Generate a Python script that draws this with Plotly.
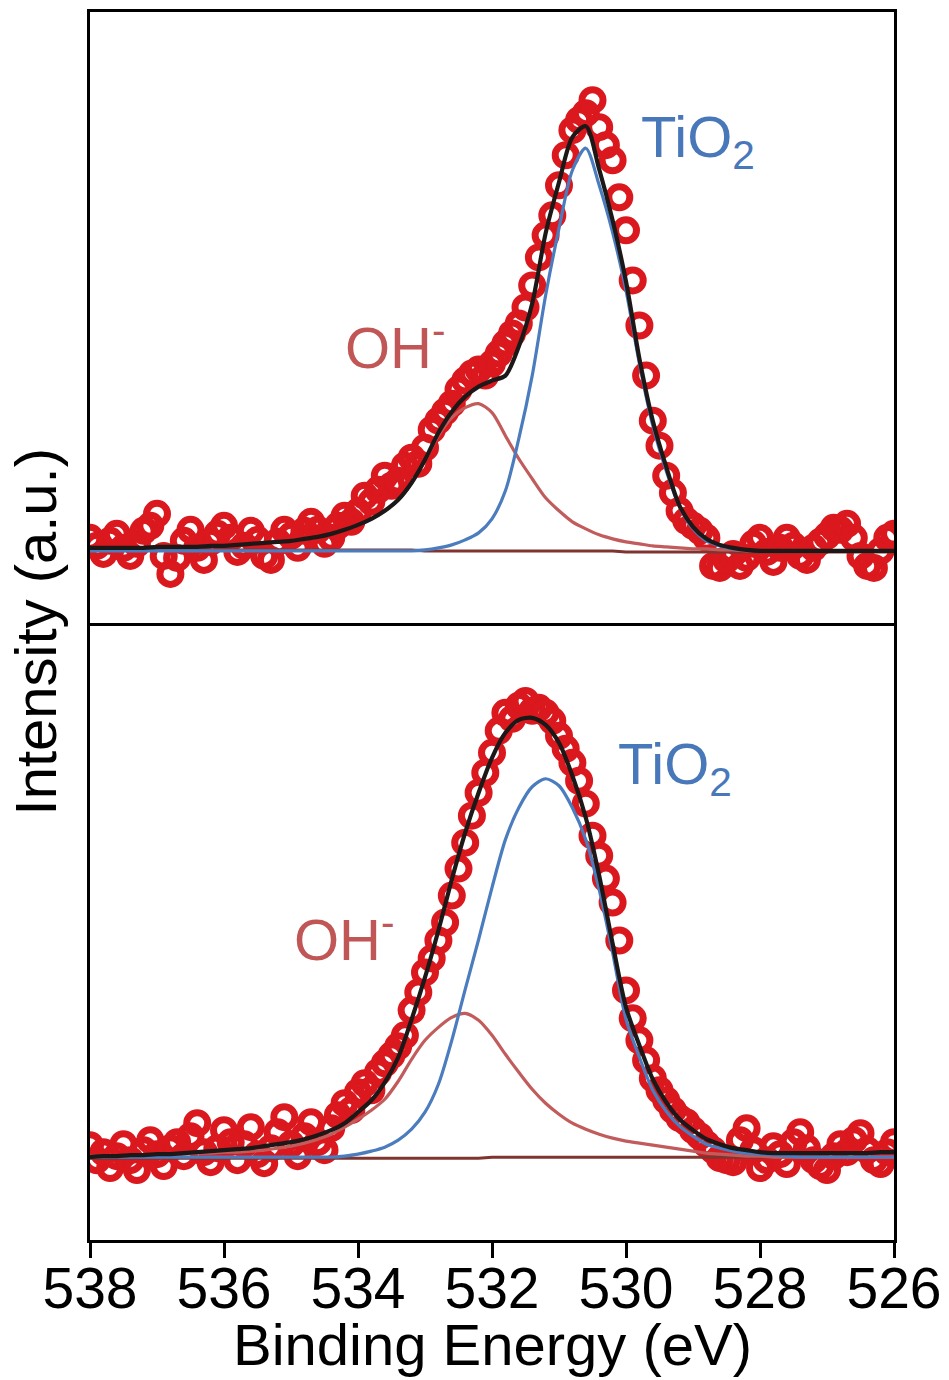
import plotly.graph_objects as go

# ---------------- data ----------------
energy_data = [
    538.0, 537.9, 537.8, 537.7, 537.6, 537.5, 537.4, 537.3, 537.2, 537.1,
    537.0, 536.9, 536.8, 536.7, 536.6, 536.5, 536.4, 536.3, 536.2, 536.1,
    536.0, 535.9, 535.8, 535.7, 535.6, 535.5, 535.4, 535.3, 535.2, 535.1,
    535.0, 534.9, 534.8, 534.7, 534.6, 534.5, 534.4, 534.3, 534.2, 534.1,
    534.0, 533.9, 533.8, 533.7, 533.6, 533.5, 533.4, 533.3, 533.2, 533.1,
    533.0, 532.9, 532.8, 532.7, 532.6, 532.5, 532.4, 532.3, 532.2, 532.1,
    532.0, 531.9, 531.8, 531.7, 531.6, 531.5, 531.4, 531.3, 531.2, 531.1,
    531.0, 530.9, 530.8, 530.7, 530.6, 530.5, 530.4, 530.3, 530.2, 530.1,
    530.0, 529.9, 529.8, 529.7, 529.6, 529.5, 529.4, 529.3, 529.2, 529.1,
    529.0, 528.9, 528.8, 528.7, 528.6, 528.5, 528.4, 528.3, 528.2, 528.1,
    528.0, 527.9, 527.8, 527.7, 527.6, 527.5, 527.4, 527.3, 527.2, 527.1,
    527.0, 526.9, 526.8, 526.7, 526.6, 526.5, 526.4, 526.3, 526.2, 526.1,
    526.0]

energy_fit = [
    538.0, 537.8, 537.6, 537.4, 537.2, 537.0, 536.8, 536.6, 536.4, 536.2,
    536.0, 535.8, 535.6, 535.4, 535.2, 535.0, 534.8, 534.6, 534.4, 534.2,
    534.0, 533.8, 533.6, 533.4, 533.2, 533.0, 532.8, 532.6, 532.4, 532.2,
    532.0, 531.8, 531.6, 531.4, 531.2, 531.0, 530.8, 530.6, 530.4, 530.2,
    530.0, 529.8, 529.6, 529.4, 529.2, 529.0, 528.8, 528.6, 528.4, 528.2,
    528.0, 527.8, 527.6, 527.4, 527.2, 527.0, 526.8, 526.6, 526.4, 526.2,
    526.0]

# upper panel
top_data = [
    88, 80, 72, 85, 92, 78, 70, 82, 95, 100,
    112, 70, 52, 68, 85, 96, 78, 66, 84, 92,
    100, 88, 74, 80, 95, 86, 70, 66, 84, 96,
    90, 78, 95, 104, 96, 82, 88, 100, 110, 104,
    114, 130, 124, 136, 150, 140, 145, 160, 168, 162,
    178, 196, 205, 214, 222, 236, 245, 252, 256, 250,
    262, 272, 282, 292, 302, 318, 340, 368, 390, 410,
    440, 470, 495, 505, 512, 525, 498, 480, 465, 428,
    395, 345, 300, 250, 205, 180, 150, 133, 115, 105,
    100, 95, 88, 60, 58, 66, 72, 60, 68, 82,
    88, 74, 64, 78, 88, 80, 70, 66, 78, 84,
    90, 98, 96, 102, 88, 70, 60, 58, 75, 88,
    92]

top_envelope = [
    78, 78, 78, 78, 78, 79, 79, 79, 79, 80,
    80, 81, 82, 83, 84, 85, 87, 89, 92, 96,
    101, 107, 115, 126, 143, 166, 193, 214, 229, 239,
    245, 250, 279, 322, 392, 443, 488, 499, 456, 405,
    344, 267, 205, 159, 120, 99, 87, 81, 78, 76,
    75, 75, 75, 75, 75, 75, 75, 75, 75, 75, 75]

top_tio2 = [
    75, 75, 75, 75, 75, 75, 75, 75, 75, 75,
    75, 75, 75, 75, 75, 75, 75, 75, 75, 75,
    75, 75, 75, 75, 75, 76, 78, 81, 86, 93,
    107, 135, 187, 250, 330, 397, 455, 477, 440, 393,
    335, 262, 200, 155, 119, 97, 85, 80, 77, 76,
    75, 75, 75, 75, 75, 75, 75, 75, 75, 75, 75]

top_oh = [
    78, 78, 78, 78, 78, 79, 79, 79, 79, 80,
    80, 81, 82, 83, 84, 85, 87, 89, 92, 96,
    101, 107, 115, 126, 143, 165, 190, 208, 218, 222,
    213, 190, 167, 147, 128, 115, 104, 97, 91, 87,
    84, 82, 80, 79, 78, 77, 77, 76, 76, 75,
    75, 75, 75, 75, 75, 75, 75, 75, 75, 75, 75]

top_background = [
    76, 76, 76, 76, 76, 76, 76, 76, 76, 76,
    76, 76, 76, 76, 76, 76, 76, 76, 76, 76,
    76, 76, 76, 76, 76, 75, 75, 75, 75, 75,
    75, 75, 75, 75, 75, 75, 75, 75, 75, 75,
    74, 74, 74, 74, 74, 74, 74, 74, 74, 74,
    74, 74, 74, 74, 74, 74, 74, 74, 74, 74, 74]

# lower panel
bottom_data = [
    95, 80, 88, 72, 84, 96, 80, 70, 90, 100,
    86, 74, 92, 98, 84, 104, 117, 88, 78, 92,
    110, 98, 80, 96, 113, 86, 77, 92, 108, 123,
    96, 84, 104, 118, 98, 90, 112, 125, 137, 130,
    148, 157, 150, 168, 177, 185, 194, 205, 230, 248,
    268, 282, 300, 318, 345, 372, 398, 425, 448, 468,
    488, 510, 528, 522, 535, 540, 530, 533, 528, 520,
    505, 492, 478, 460, 437, 405, 385, 362, 338, 300,
    250, 222, 200, 180, 162, 150, 140, 130, 122, 118,
    110, 104, 96, 90, 82, 80, 78, 100, 112, 90,
    72, 80, 94, 86, 76, 98, 108, 92, 80, 74,
    70, 84, 96, 88, 100, 107, 90, 80, 76, 88,
    98]

bottom_envelope = [
    83, 84, 84, 85, 85, 86, 86, 87, 88, 89,
    90, 91, 92, 94, 96, 98, 101, 105, 110, 117,
    128, 140, 158, 183, 221, 263, 310, 361, 408, 448,
    483, 508, 521, 523, 516, 498, 465, 423, 365, 297,
    233, 195, 161, 138, 121, 110, 101, 96, 92, 90,
    88, 87, 87, 87, 87, 87, 87, 87, 87, 88, 88]

bottom_tio2 = [
    83, 83, 83, 83, 83, 83, 83, 83, 83, 83,
    83, 83, 83, 83, 83, 83, 83, 83, 83, 84,
    86, 89, 93, 100, 111, 128, 156, 200, 251, 301,
    353, 401, 433, 454, 462, 455, 433, 401, 351, 288,
    221, 183, 150, 129, 114, 104, 96, 92, 89, 87,
    86, 85, 84, 83, 83, 83, 83, 83, 83, 83, 83]

bottom_oh = [
    84, 84, 84, 85, 85, 85, 86, 86, 87, 87,
    88, 88, 89, 90, 92, 94, 97, 101, 106, 113,
    121, 130, 141, 159, 181, 200, 213, 223, 227, 220,
    205, 186, 168, 151, 137, 126, 117, 111, 106, 102,
    99, 97, 95, 93, 91, 89, 87, 86, 85, 84,
    84, 83, 83, 83, 83, 83, 83, 83, 83, 83, 83]

bottom_background = [
    82, 82, 82, 82, 82, 82, 82, 82, 82, 82,
    82, 82, 82, 82, 82, 82, 82, 82, 82, 82,
    82, 82, 82, 82, 82, 82, 82, 82, 82, 82,
    83, 83, 83, 83, 83, 83, 83, 83, 83, 83,
    83, 83, 83, 83, 83, 83, 83, 83, 83, 83,
    83, 83, 83, 83, 83, 83, 83, 83, 83, 83, 83]

x_ticks = [538, 536, 534, 532, 530, 528, 526]
x_tick_labels = ["538", "536", "534", "532", "530", "528", "526"]

# ---------------- styling ----------------
FONT = "Arial, 'Liberation Sans', Helvetica, sans-serif"
RED = "rgb(218,24,30)"
BLACK = "rgb(28,24,24)"
BLUE = "rgb(74,124,190)"
PINK = "rgb(194,92,92)"
BROWN = "rgb(128,52,48)"
TXT_BLUE = "rgb(72,120,186)"
TXT_RED = "rgb(192,86,86)"

fig = go.Figure()


def add_panel(xa, ya, data, env, tio2, oh, bg):
    fig.add_trace(go.Scatter(
        x=energy_data, y=data, mode="markers", xaxis=xa, yaxis=ya,
        marker=dict(symbol="circle-open", size=21, color=RED,
                    line=dict(width=7, color=RED)),
        showlegend=False, hoverinfo="skip"))
    fig.add_trace(go.Scatter(
        x=energy_fit, y=bg, mode="lines", xaxis=xa, yaxis=ya,
        line=dict(color=BROWN, width=3), showlegend=False))
    fig.add_trace(go.Scatter(
        x=energy_fit, y=oh, mode="lines", xaxis=xa, yaxis=ya,
        line=dict(color=PINK, width=3.2, shape="spline", smoothing=0.8),
        showlegend=False))
    fig.add_trace(go.Scatter(
        x=energy_fit, y=tio2, mode="lines", xaxis=xa, yaxis=ya,
        line=dict(color=BLUE, width=3.2, shape="spline", smoothing=0.8),
        showlegend=False))
    fig.add_trace(go.Scatter(
        x=energy_fit, y=env, mode="lines", xaxis=xa, yaxis=ya,
        line=dict(color=BLACK, width=4.2, shape="spline", smoothing=0.8),
        showlegend=False))


add_panel("x2", "y2", top_data, top_envelope, top_tio2, top_oh, top_background)
add_panel("x", "y", bottom_data, bottom_envelope, bottom_tio2, bottom_oh, bottom_background)

axis_common = dict(showline=True, linecolor="black", linewidth=3,
                   showgrid=False, zeroline=False)

fig.update_layout(
    width=949, height=1380,
    margin=dict(l=90, r=55, t=12, b=140),
    paper_bgcolor="white", plot_bgcolor="white",
    font=dict(family=FONT, color="black"),
    xaxis=dict(domain=[0, 1], anchor="y", range=[538, 526], mirror=True,
               tickmode="array", tickvals=x_ticks, ticktext=x_tick_labels,
               ticks="outside", ticklen=15, tickwidth=2.5, tickcolor="black",
               ticklabelstandoff=-18, automargin=False,
               tickfont=dict(size=57, family=FONT, color="black"),
               **axis_common),
    yaxis=dict(domain=[0, 0.5], anchor="x", range=[0, 615], mirror=True,
               showticklabels=False, ticks="", **axis_common),
    xaxis2=dict(domain=[0, 1], anchor="y2", range=[538, 526], matches="x",
                side="top", mirror=False,
                showticklabels=False, ticks="", **axis_common),
    yaxis2=dict(domain=[0.5, 1], anchor="x2", range=[0, 613], mirror=True,
                showticklabels=False, ticks="", **axis_common),
)

annotations = [
    dict(text="Binding Energy (eV)", xref="paper", yref="paper",
         x=0.5, y=-0.085, xanchor="center", yanchor="middle", showarrow=False,
         font=dict(size=58, family=FONT, color="black")),
    dict(text="Intensity (a.u.)", xref="paper", yref="paper",
         x=-0.068, y=0.495, xanchor="center", yanchor="middle", showarrow=False,
         textangle=-90, font=dict(size=58, family=FONT, color="black")),
    dict(text="TiO<sub>2</sub>", xref="x2", yref="y2", x=529.81, y=484,
         xanchor="left", yanchor="middle", showarrow=False,
         font=dict(size=58, family=FONT, color=TXT_BLUE)),
    dict(text="OH<sup>-</sup>", xref="x2", yref="y2", x=534.22, y=282,
         xanchor="left", yanchor="middle", showarrow=False,
         font=dict(size=58, family=FONT, color=TXT_RED)),
    dict(text="TiO<sub>2</sub>", xref="x", yref="y", x=530.15, y=473,
         xanchor="left", yanchor="middle", showarrow=False,
         font=dict(size=58, family=FONT, color=TXT_BLUE)),
    dict(text="OH<sup>-</sup>", xref="x", yref="y", x=534.98, y=305,
         xanchor="left", yanchor="middle", showarrow=False,
         font=dict(size=58, family=FONT, color=TXT_RED)),
]
fig.update_layout(annotations=annotations)

fig.write_html("out.html")
